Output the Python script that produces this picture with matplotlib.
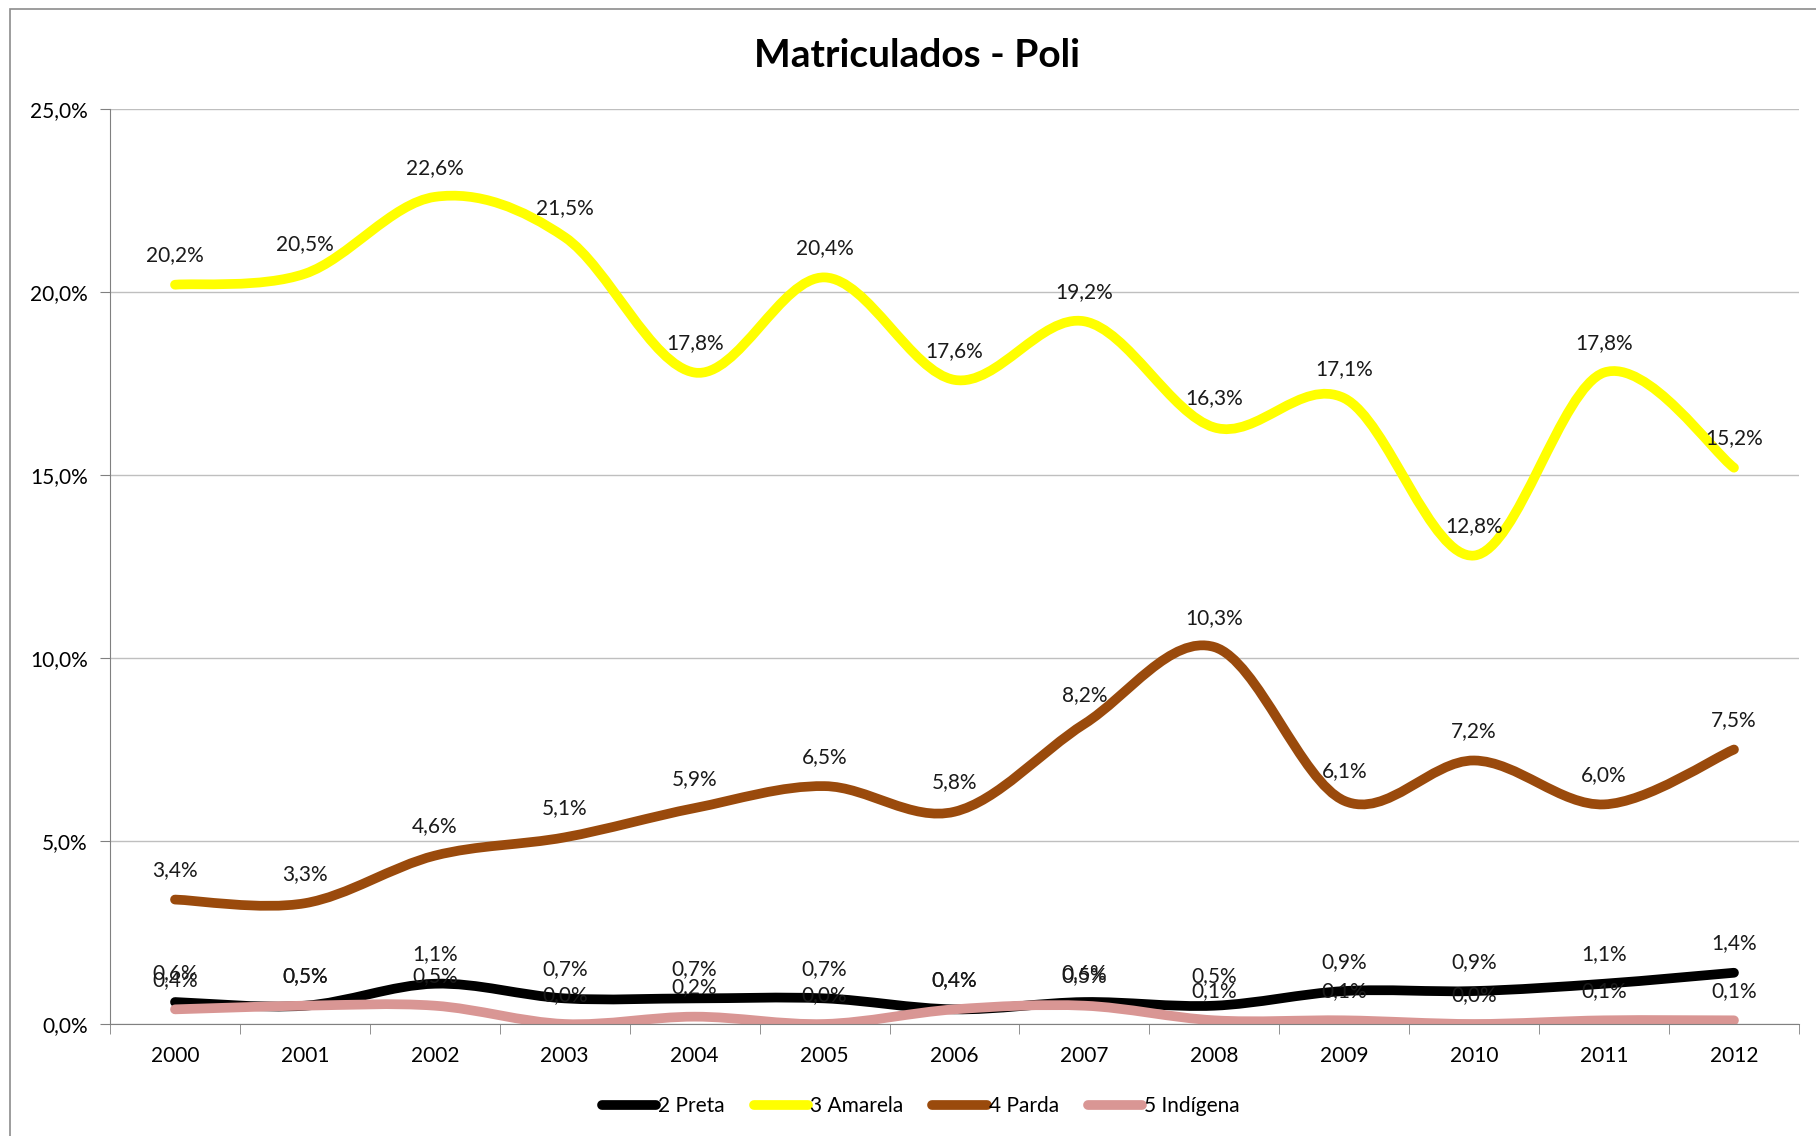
import numpy as np
import matplotlib
matplotlib.use("Agg")
import matplotlib.pyplot as plt
from matplotlib.path import Path
from matplotlib.patches import PathPatch, Rectangle
from matplotlib.lines import Line2D

plt.rcParams['font.family'] = ['Lato', 'DejaVu Sans']

anos = ['2000', '2001', '2002', '2003', '2004', '2005', '2006',
        '2007', '2008', '2009', '2010', '2011', '2012']
preta = [0.6, 0.5, 1.1, 0.7, 0.7, 0.7, 0.4, 0.6, 0.5, 0.9, 0.9, 1.1, 1.4]
amarela = [20.2, 20.5, 22.6, 21.5, 17.8, 20.4, 17.6, 19.2, 16.3, 17.1, 12.8, 17.8, 15.2]
parda = [3.4, 3.3, 4.6, 5.1, 5.9, 6.5, 5.8, 8.2, 10.3, 6.1, 7.2, 6.0, 7.5]
indigena = [0.4, 0.5, 0.5, 0.0, 0.2, 0.0, 0.4, 0.5, 0.1, 0.1, 0.0, 0.1, 0.1]

series = ['2 Preta', '3 Amarela', '4 Parda', '5 Indígena']
valores = [preta, amarela, parda, indigena]
cores = ['#000000', '#FFFF00', '#9A4A0C', '#D99694']


def smooth_path(x, y):
    # excel-like smoothed line: cubic bezier between points
    x = np.asarray(x, float)
    y = np.asarray(y, float)
    verts = [(x[0], y[0])]
    codes = [Path.MOVETO]
    n = len(x)
    for i in range(n - 1):
        p0 = np.array([x[max(i - 1, 0)], y[max(i - 1, 0)]])
        p1 = np.array([x[i], y[i]])
        p2 = np.array([x[i + 1], y[i + 1]])
        p3 = np.array([x[min(i + 2, n - 1)], y[min(i + 2, n - 1)]])
        c1 = p1 + (p2 - p0) / 6.0
        c2 = p2 - (p3 - p1) / 6.0
        verts += [tuple(c1), tuple(c2), tuple(p2)]
        codes += [Path.CURVE4] * 3
    return Path(verts, codes)


fig = plt.figure(figsize=(18.16, 11.36), dpi=100)
fig.patches.append(Rectangle((10 / 1816, -0.01), 1.0, 1 - 9 / 1136 + 0.01,
                             transform=fig.transFigure, fill=False,
                             edgecolor='#8c8c8c', linewidth=1.2))
ax = fig.add_axes([0.0606, 0.0986, 0.9300, 0.8054])

fs = 15
x = np.arange(len(anos))
for nome, vals, cor in zip(series, valores, cores):
    ax.add_patch(PathPatch(smooth_path(x, vals), facecolor='none', edgecolor=cor,
                           linewidth=7, capstyle='round', joinstyle='round'))
    for xi, v in zip(x, vals):
        ax.annotate(f"{v:.1f}%".replace('.', ','), (xi, v), xytext=(0, 21),
                    textcoords='offset points', ha='center', va='center',
                    fontsize=fs, color='#1a1a1a')

ax.set_xlim(-0.5, len(anos) - 0.5)
ax.set_ylim(0, 25)
ax.set_yticks(np.arange(0, 26, 5))
ax.set_yticklabels([f"{v:.1f}%".replace('.', ',') for v in np.arange(0, 26, 5)],
                   fontsize=fs)
ax.set_xticks(x)
ax.set_xticklabels(anos, fontsize=fs)
ax.set_xticks(np.arange(-0.5, len(anos), 1), minor=True)
ax.tick_params(axis='x', which='major', length=0, pad=16)
ax.tick_params(axis='x', which='minor', length=7, color='#808080', direction='out')
ax.tick_params(axis='y', length=7, color='#808080', direction='out', pad=9)
ax.yaxis.grid(True, color='#bfbfbf', linewidth=1)
ax.set_axisbelow(True)
for s in ['top', 'right']:
    ax.spines[s].set_visible(False)
ax.spines['left'].set_color('#808080')
ax.spines['bottom'].set_color('#808080')

fig.text(0.505, 0.951, 'Matriculados - Poli', ha='center', va='center',
         fontsize=28, fontweight='bold')

handles = [Line2D([0], [0], color=c, linewidth=7, solid_capstyle='round') for c in cores]
fig.legend(handles, series, loc='center', bbox_to_anchor=(0.507, 0.026), ncol=4,
           frameon=False, fontsize=fs, handlelength=2.6, handletextpad=0.1,
           columnspacing=1.4)

fig.savefig('out.png', dpi=100)
